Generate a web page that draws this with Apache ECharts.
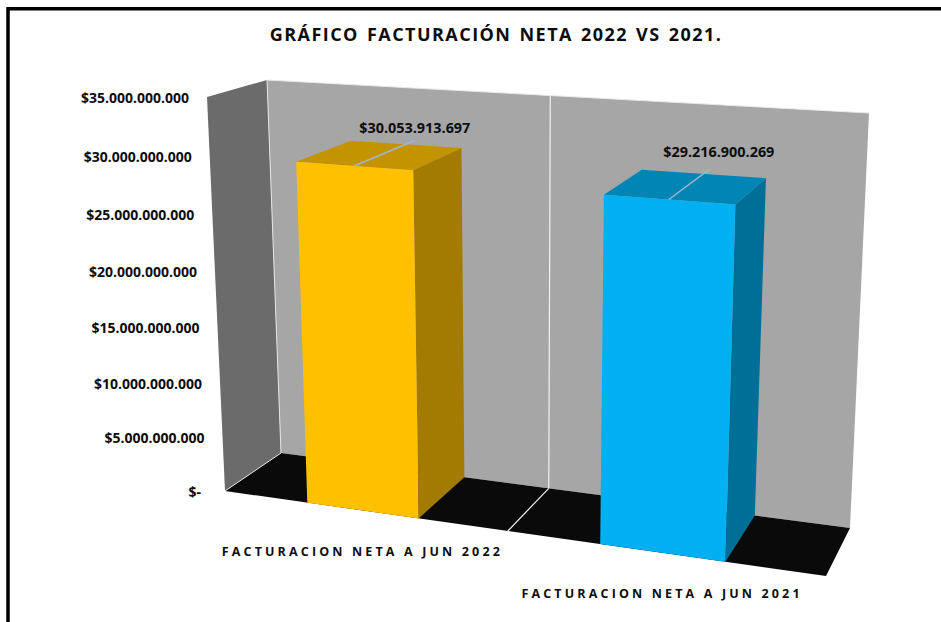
<!DOCTYPE html>
<html>
<head>
<meta charset="utf-8">
<title>Facturacion neta</title>
<script src="https://cdn.jsdelivr.net/npm/echarts@6/dist/echarts.min.js"></script>
<style>
html,body{margin:0;padding:0;background:#fff;overflow:hidden;}
#main{width:941px;height:622px;}
/* el espaciado entre letras del original, solo titulo y categorias */
#main text[style*="18px"]{letter-spacing:1.45px;word-spacing:2px;}
#main text[style*="12.5px"]{letter-spacing:3.15px;}
</style>
</head>
<body>
<div id="main"></div>
<script>
var categorias = ['FACTURACION NETA A JUN 2022', 'FACTURACION NETA A JUN 2021'];
var valores = [30053913697, 29216900269];
var tickValues = [0, 5000000000, 10000000000, 15000000000, 20000000000, 25000000000, 30000000000, 35000000000];
var tickLabels = ['$-', '$5.000.000.000', '$10.000.000.000', '$15.000.000.000', '$20.000.000.000', '$25.000.000.000', '$30.000.000.000', '$35.000.000.000'];
var coloresFrente = ['#FFC000', '#00B0F0'];
var coloresArriba = ['#C49300', '#0085B5'];
var coloresLado = ['#A37B00', '#006F98'];

// esquinas de la caja 3D en pantalla (f=frente, b=fondo, i=izq, d=der, a=abajo, t=arriba)
var caja = {
    fia: [225, 491], fda: [826, 576], bia: [281, 453], bda: [850, 528],
    fit: [207, 97], fdt: [844, 136], bit: [267, 80], bdt: [869, 113]
};
var kU = 1.125, kV = 1.06;
var anchoBar = 0.197;

function lerp(a, b, t) {
    return [a[0] + (b[0] - a[0]) * t, a[1] + (b[1] - a[1]) * t];
}
function persp(t, k) {
    return t / (t + k * (1 - t));
}
// u, v, d en 0..1 -> pixel
function proyectar(u, v, d) {
    var w = persp(u, kU), t = persp(v, kV);
    var frente = lerp(lerp(caja.fia, caja.fda, w), lerp(caja.fit, caja.fdt, w), t);
    var fondo = lerp(lerp(caja.bia, caja.bda, w), lerp(caja.bit, caja.bdt, w), t);
    return lerp(frente, fondo, d);
}
function normal(params, p) {
    var g = params.coordSys;
    return [(p[0] - g.x) / g.width, (g.y + g.height - p[1]) / g.height];
}
function poligono(pts, color, z) {
    return {type: 'polygon', z2: z || 0, shape: {points: pts}, style: {fill: color}, silent: true};
}
function linea(a, b, color, w, z) {
    return {type: 'line', z2: z || 1, shape: {x1: a[0], y1: a[1], x2: b[0], y2: b[1]}, style: {stroke: color, lineWidth: w}, silent: true};
}
function texto(t, x, y, font, align) {
    return {type: 'text', z2: 5, silent: true, style: {text: t, x: x, y: y, font: font, fill: '#0d0d0d', align: align, verticalAlign: 'middle'}};
}

// paredes y piso
function renderParedes(params, api) {
    var limite = normal(params, [params.coordSys.x + params.coordSys.width / 2, 0])[0];
    return {type: 'group', children: [
        poligono([proyectar(0, 0, 0), proyectar(0, 1, 0), proyectar(0, 1, 1), proyectar(0, 0, 1)], '#6B6B6B'),
        poligono([proyectar(0, 0, 1), proyectar(0, 1, 1), proyectar(1, 1, 1), proyectar(1, 0, 1)], '#A6A6A6'),
        poligono([proyectar(0, 0, 0), proyectar(0, 0, 1), proyectar(1, 0, 1), proyectar(1, 0, 0)], '#0A0A0A'),
        linea(proyectar(0, 0, 1), proyectar(0, 1, 1), '#E4E4E4', 1),
        linea(proyectar(0, 0, 0), proyectar(0, 0, 1), '#E4E4E4', 1),
        linea(proyectar(0, 1, 1), proyectar(1, 1, 1), '#E8E8E8', 1),
        linea(proyectar(limite, 0, 1), proyectar(limite, 1, 1), '#F2F2F2', 1.2),
        linea(proyectar(limite, 0, 0), proyectar(limite, 0, 1), '#F2F2F2', 1.2)
    ]};
}

function renderBarra(params, api) {
    var i = api.value(0);
    var p = normal(params, api.coord([i, api.value(1)]));
    var mitad = anchoBar * api.size([1, 0])[0] / params.coordSys.width;
    var u = p[0], v = p[1];
    var u0 = u - mitad, u1 = u + mitad;
    var fondoBase = proyectar(u, 0, 0);
    var tapa = proyectar(u, v, 1);
    return {type: 'group', children: [
        // lado derecho, tapa y frente
        poligono([proyectar(u1, 0, 0), proyectar(u1, v, 0), proyectar(u1, v, 1), proyectar(u1, 0, 1)], coloresLado[i]),
        poligono([proyectar(u0, v, 0), proyectar(u0, v, 1), proyectar(u1, v, 1), proyectar(u1, v, 0)], coloresArriba[i]),
        poligono([proyectar(u0, 0, 0), proyectar(u0, v, 0), proyectar(u1, v, 0), proyectar(u1, 0, 0)], coloresFrente[i]),
        linea(proyectar(u, v, 0), proyectar(u, v, 1.18), '#9DB8D2', 1.4, 2),
        texto('$' + String(api.value(1)).replace(/\B(?=(\d{3})+$)/g, '.'), tapa[0] + 6 + 13 * u, tapa[1] - 14.5 - 10 * u, 'bold 14.4px "Open Sans"', 'center'),
        texto(categorias[i], fondoBase[0], fondoBase[1] + 41, 'bold 12.5px "Open Sans"', 'center')
    ]};
}

function renderTick(params, api) {
    var p = normal(params, api.coord([0, api.value(0)]));
    var pos = proyectar(0, p[1], 0);
    var sep = api.value(0) === 0 ? 24 : 18;
    return texto(tickLabels[params.dataIndex], pos[0] - sep, pos[1], 'bold 14px "Open Sans"', 'right');
}

var chart = echarts.init(document.getElementById('main'), null, {renderer: 'svg'});
chart.setOption({
    animation: false,
    backgroundColor: '#fff',
    title: {
        text: 'GRÁFICO FACTURACIÓN NETA 2022 VS 2021.',
        left: 491,
        textAlign: 'center',
        top: 20,
        textStyle: {fontFamily: 'Open Sans', fontWeight: 'bold', fontSize: 18, color: '#0d0d0d'}
    },
    graphic: [{
        type: 'rect',
        shape: {x: 8, y: 8.75, width: 960, height: 640},
        style: {fill: 'none', stroke: '#000', lineWidth: 3.5},
        silent: true
    }],
    grid: {left: 225, right: 115, top: 97, bottom: 131},
    xAxis: {type: 'category', data: categorias, show: false},
    yAxis: {type: 'value', min: 0, max: 35000000000, interval: 5000000000, show: false},
    series: [
        {type: 'custom', name: 'paredes', data: [[0, 0]], renderItem: renderParedes, clip: false, z: 1},
        {type: 'custom', name: 'ticks', data: tickValues.map(function (v) { return [v]; }), encode: {y: 0}, renderItem: renderTick, clip: false, z: 2},
        {type: 'custom', name: 'facturacion', data: valores.map(function (v, i) { return [i, v]; }), encode: {x: 0, y: 1}, renderItem: renderBarra, clip: false, z: 3}
    ]
});
</script>
</body>
</html>
